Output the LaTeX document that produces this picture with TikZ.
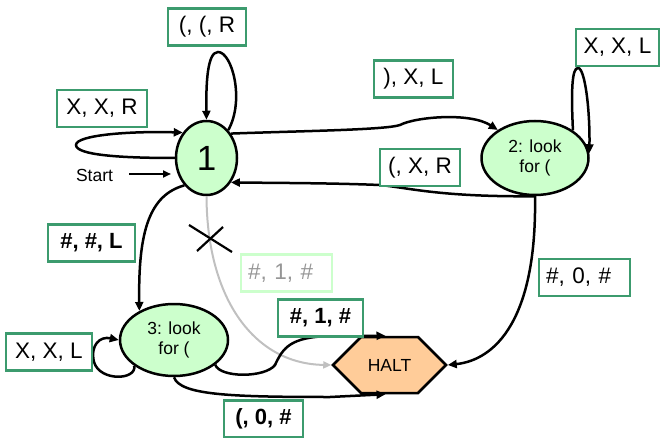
\documentclass[tikz,border=0pt]{standalone}
\usepackage{fontspec}
\setmainfont{Liberation Sans}
\usetikzlibrary{shapes.geometric,shapes.symbols,arrows.meta,calc}
\definecolor{boxgreen}{RGB}{60,155,110}
\definecolor{stategreen}{RGB}{204,255,204}
\definecolor{haltorange}{RGB}{255,204,153}
\definecolor{fadegreen}{RGB}{204,255,204}
\definecolor{fadegray}{RGB}{150,150,150}
\definecolor{fadeline}{RGB}{192,192,192}
\newcommand\labfont{\fontsize{22.5}{24}\selectfont}
\newcommand\labboldfont{\fontsize{22}{24}\selectfont\bfseries}
\begin{document}
\begin{tikzpicture}[x=1pt,y=-1pt,
  state/.style={ellipse,draw,line width=2.5pt,fill=stategreen,inner sep=0pt,align=center,
    font=\fontsize{17.5}{20}\selectfont},
  haltbox/.style={signal,signal to=east and west,signal pointer angle=90,draw,line width=2.5pt,
    fill=haltorange,inner sep=0pt,minimum width=113pt,minimum height=56pt,
    font=\fontsize{17.5}{20}\selectfont},
  lab/.style={draw=boxgreen,line width=2.2pt,fill=white,inner sep=0pt,minimum height=37pt,
    font=\labfont},
  labbold/.style={lab,font=\labboldfont},
  lableft/.style={lab,inner xsep=7pt,text width=77pt,align=left},
  fadelab/.style={lableft,draw=fadegreen,text=fadegray},
  edge/.style={line width=2.5pt,-{Triangle[length=9pt,width=8pt]}},
  fadeedge/.style={line width=2pt,draw=fadeline,-{Triangle[length=8pt,width=7pt]},fadeline},
  plain/.style={font=\fontsize{17.5}{20}\selectfont}
]
\useasboundingbox (0,0) rectangle (660,438);

% states
\node[state,minimum width=61pt,minimum height=74pt,font=\fontsize{35}{36}\selectfont] (s1) at (206.5,158) {1};
\node[state,minimum width=107pt,minimum height=74pt] (s2) at (535,158) {2: look\\for (};
\node[state,minimum width=108pt,minimum height=72pt] (s3) at (174,340) {3: look\\for (};
\node[haltbox] (h) at (389.5,365) {HALT};

% start
\node[plain] (start) at (94.5,175) {Start};
\coordinate (sta) at (129,174);
\coordinate (stb) at (171,174);
\draw[line width=2pt,-{Triangle[length=8pt,width=7pt]}] (sta) -- (stb);

% edges
\draw[edge] (s1.52) .. controls (245,100) and (232,52) .. (218,52)
   .. controls (207,52) and (206,85) .. (s1.north);
\draw[edge] (s1.west) .. controls (120,158) and (76,155) .. (76,145)
   .. controls (76,135) and (130,131) .. (s1.133);
\draw[edge] (s1.45) .. controls (300,131) and (385,130) .. (400,125)
   .. controls (415,117) and (470,112) .. (s2.143);
\draw[edge] (s2.south) .. controls (440,197) and (410,188) .. (380,185)
   .. controls (330,183) and (280,183) .. (s1.-45);
\draw[edge] (s2.36) .. controls (571,90) and (572,68) .. (578,68)
   .. controls (585,68) and (590,110) .. (s2.5);
\draw[edge] (s2.south) .. controls (537,320) and (495,360) .. (h.east);
\draw[edge] (s1.-129) .. controls (150,195) and (138,230) .. (s3.140);
\draw[fadeedge] (s1.south) .. controls (207,300) and (255,364) .. (h.west);
\draw[edge] (s3.-31) .. controls (220,378) and (265,378) .. (275,365)
   .. controls (283,348) and (290,337) .. (330,336) -- ([xshift=-4pt]h.north);
\draw[edge] (s3.south) .. controls (180,395) and (230,397) .. (330,397) -- ([xshift=-4pt]h.south);
\draw[edge] (s3.-147) .. controls (137,380) and (100,382) .. (94,362)
   .. controls (90,345) and (100,336) .. (s3.west);

% cross
\draw[line width=2.2pt] (189,225) -- (232,252);
\draw[line width=2.2pt] (223,227) -- (197,251);

% labels
\node[lab,minimum width=78pt] (l1) at (207,27) {(, (, R};
\node[lab,minimum width=90pt] (l2) at (102,108.5) {X, X, R};
\node[lab,minimum width=79pt] (l3) at (413.5,79) {), X, L};
\node[lab,minimum width=83pt] (l4) at (617.5,47.5) {X, X, L};
\node[lab,minimum width=80pt] (l5) at (420,167.5) {(, X, R};
\node[labbold,minimum width=87pt] (l6) at (91.5,243) {\#, \#, L};
\node[fadelab] (l7) at (286.5,273) {\#, 1, \#};
\node[labbold,minimum width=85pt] (l8) at (320.5,318) {\#, 1, \#};
\node[lab,minimum width=86pt] (l9) at (49,352) {X, X, L};
\node[labbold,minimum width=79pt] (l10) at (263.5,419) {(, 0, \#};
\node[lableft] (l11) at (584.5,277.5) {\#, 0, \#};
\end{tikzpicture}
\end{document}
